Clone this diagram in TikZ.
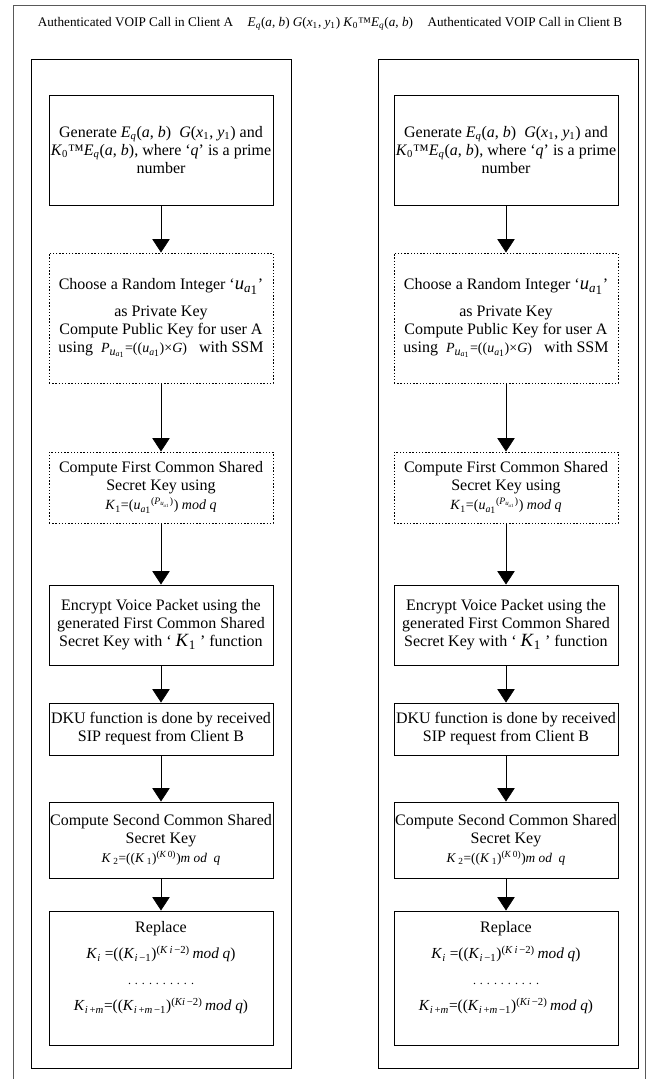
\documentclass[tikz,border=0pt]{standalone}
\usepackage{fontspec}
\setmainfont{Liberation Serif}
\usetikzlibrary{arrows.meta}
\newcommand\vi[1]{\textit{#1}}
\newcommand\sbs[1]{\textsubscript{#1}}
\newcommand\sps[1]{\textsuperscript{#1}}
\newcommand\ua{\vi{u}\sbs{\vi{a}\raisebox{-0.35ex}{1}}}
\begin{document}
\begin{tikzpicture}[x=0.75pt,y=-0.75pt,
  outerframe/.style={draw=black!65, line width=0.75pt},
  colframe/.style={draw=black, line width=0.75pt, minimum width=195pt, minimum height=756.75pt, inner sep=0pt},
  stepbox/.style={draw=black, line width=0.75pt, minimum width=168pt, align=center, inner sep=0pt,
     font=\fontsize{12}{13.5}\selectfont},
  dotbox/.style={stepbox, dash pattern=on 1.1pt off 1.3pt},
  txt/.style={align=center, inner sep=0pt, font=\fontsize{12}{13.5}\selectfont},
  flow/.style={-{Triangle[length=10pt,width=13pt]}, line width=0.5pt}
]
\useasboundingbox (0,0) rectangle (653,1079);
% outer frame (open at the bottom)
\draw[outerframe] (13,1085) -- (13,5) -- (645,5) -- (645,1085);
% title
\node[inner sep=0pt, font=\fontsize{9.9}{11}\selectfont] (title) at (330,24)
 {Authenticated VOIP Call in Client A\hspace{1.1em}\vi{E}\sbs{\vi{q}}(\vi{a}, \vi{b}) \vi{G}(\vi{x}\sbs{1}, \vi{y}\sbs{1}) \vi{K}\sbs{0}™\vi{E}\sbs{\vi{q}}(\vi{a}, \vi{b})\hspace{1.1em}Authenticated VOIP Call in Client B};

\foreach \s/\cx/\fx in {L/161/161, R/506/508}{
  \node[colframe] (col\s) at (\fx,563.5) {};
  \node[stepbox, minimum height=82.5pt] (b1\s) at (\cx,150)
   {Generate \vi{E}\sbs{\vi{q}}(\vi{a}, \vi{b})\ \ \vi{G}(\vi{x}\sbs{1}, \vi{y}\sbs{1}) and\\
    \vi{K}\sbs{0}™\vi{E}\sbs{\vi{q}}(\vi{a}, \vi{b}), where ‘\vi{q}’ is a prime\\ number};
  \node[dotbox, minimum height=97.5pt] (b2\s) at (\cx,318)
   {Choose a Random Integer ‘{\fontsize{14}{14}\selectfont\ua}’\\[7pt]
    as Private Key\\ Compute Public Key for user A\\
    using\ \ {\fontsize{10.5}{12}\selectfont\vi{P}\sbs{\fontsize{9}{10}\selectfont\ua}=((\ua)×\vi{G})}\ \ \ with SSM};
  \node[dotbox, minimum height=53.25pt] (b3\s) at (\cx,487.5)
   {Compute First Common Shared\\ Secret Key using\\[1pt]
    {\fontsize{10.5}{11}\selectfont\vi{K}\sbs{1}=(\ua\sps{(\vi{P}\sbs{\ua})}) \vi{mod q}}};
  \node[stepbox, minimum height=60pt] (b4\s) at (\cx,625)
   {Encrypt Voice Packet using the\\ generated First Common Shared\\
    Secret Key with ‘ {\fontsize{14}{14}\selectfont\vi{K}\sbs{1}} ’ function};
  \node[stepbox, minimum height=39pt] (b5\s) at (\cx,729)
   {DKU function is done by received\\ SIP request from Client B};
  \node[stepbox, minimum height=57pt] (b6\s) at (\cx,840)
   {Compute Second Common Shared\\ Secret Key\\[1pt]
    {\fontsize{10}{11}\selectfont\vi{K}\,\sbs{2}=((\vi{K}\,\sbs{1})\sps{(\vi{K}\,0)})\vi{m od\ \ q}}};
  \node[stepbox, minimum height=100.5pt] (b7\s) at (\cx,978) {};
  \node[txt] (t7\s) at (\cx,968)
   {Replace\\[6pt]
    {\fontsize{11.5}{13}\selectfont\vi{K}\sbs{\vi{i}} =((\vi{K}\sbs{\vi{i}\,−1})\sps{(\vi{K}\,\vi{i}\,−2)}\,\vi{mod q})}\\[6pt]
    {\fontsize{9}{10}\selectfont . . . . . . . . . .}\\[6pt]
    {\fontsize{11.5}{13}\selectfont\vi{K}\sbs{\vi{i}\,+\vi{m}}=((\vi{K}\sbs{\vi{i}\,+\vi{m}\,−1})\sps{(\vi{Ki}\,−2)}\,\vi{mod q})}};
  \draw[flow] (b1\s) -- (b2\s);
  \draw[flow] (b2\s) -- (b3\s);
  \draw[flow] (b3\s) -- (b4\s);
  \draw[flow] (b4\s) -- (b5\s);
  \draw[flow] (b5\s) -- (b6\s);
  \draw[flow] (b6\s) -- (b7\s);
}
\end{tikzpicture}
\end{document}
